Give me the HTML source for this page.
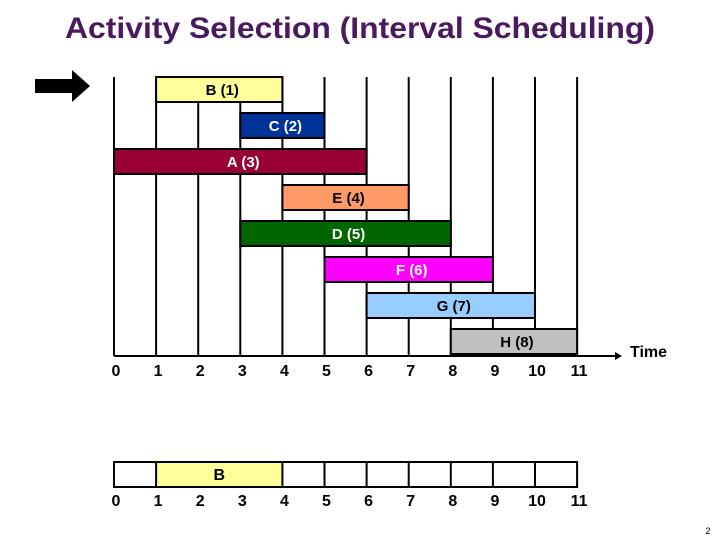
<!DOCTYPE html>
<html><head><meta charset="utf-8"><style>
body{margin:0;background:#fff;width:720px;height:540px;overflow:hidden;font-family:"Liberation Sans",Arial,sans-serif}
</style></head><body>
<svg id="c" width="720" height="540" xmlns="http://www.w3.org/2000/svg">
<text x="360" y="38" text-anchor="middle" font-size="30" font-weight="bold" fill="#4b1a5e" textLength="590" lengthAdjust="spacingAndGlyphs">Activity Selection (Interval Scheduling)</text>
<polygon points="35,79 72,79 72,70 90,86 72,102 72,93 35,93" fill="#000"/>
<text x="708" y="534" font-size="9" text-anchor="middle">2</text>
</svg>
<script>
const names=["B (1)","C (2)","A (3)","E (4)","D (5)","F (6)","G (7)","H (8)"];
const starts=[1,3,0,4,3,5,6,8];
const ends=[4,5,6,7,8,9,10,11];
const colors=["#ffff99","#003399","#990033","#ff9966","#006600","#ff00ff","#99ccff","#c0c0c0"];
const textColors=["#000","#fff","#fff","#000","#fff","#fff","#000","#000"];
const ticks=[0,1,2,3,4,5,6,7,8,9,10,11];
const selected=[{name:"B",start:1,end:4}];
const svg=document.getElementById('c');
const NS="http://www.w3.org/2000/svg";
const X=t=>114+t*42.1;
const rowY=i=>77+i*36;
function mk(tag,attrs,parent){const e=document.createElementNS(NS,tag);for(const k in attrs)e.setAttribute(k,attrs[k]);(parent||svg).appendChild(e);return e;}
ticks.forEach(t=>{
 const l=mk('line',{x1:X(t),x2:X(t),y1:77,y2:356,stroke:'#000','stroke-width':2});
 
 
});
names.forEach((n,i)=>{
 const y=rowY(i);
 const r=mk('rect',{x:X(starts[i]),y:y,width:X(ends[i])-X(starts[i]),height:25,fill:colors[i],stroke:'#000','stroke-width':2});
 
 
 const t=mk('text',{x:(X(starts[i])+X(ends[i]))/2+3,y:y+18,'text-anchor':'middle','font-size':15,'font-weight':'bold',fill:textColors[i]});
 t.textContent=n;
 
 
});
const ax=mk('line',{x1:X(0),x2:615,y1:356,y2:356,stroke:'#000','stroke-width':2});


const ah=mk('polygon',{points:'615,352 622,356 615,360',fill:'#000'});


const tt=mk('text',{x:630,y:357,'font-size':16,'font-weight':'bold'});
tt.textContent='Time';


ticks.forEach(t=>{
 const e=mk('text',{x:X(t)+2,y:376,'text-anchor':'middle','font-size':16,'font-weight':'bold'});
 e.textContent=t;
 
 
});
selected.forEach(s=>{
 const r=mk('rect',{x:X(s.start),y:462,width:X(s.end)-X(s.start),height:25,fill:'#ffff99'});
 
 
 const t=mk('text',{x:(X(s.start)+X(s.end))/2,y:480,'text-anchor':'middle','font-size':16,'font-weight':'bold'});
 t.textContent=s.name;
 
 
});
const bx=mk('rect',{x:X(0),y:462,width:X(11)-X(0),height:25,fill:'none',stroke:'#000','stroke-width':2});


ticks.forEach(t=>{
 const inside=selected.some(s=>t>s.start&&t<s.end);
 if(t>0&&t<11&&!inside){
  const l=mk('line',{x1:X(t),x2:X(t),y1:462,y2:487,stroke:'#000','stroke-width':2});
  
  
 }
 const e=mk('text',{x:X(t)+2,y:506,'text-anchor':'middle','font-size':16,'font-weight':'bold'});
 e.textContent=t;
 
 
});
</script>
</body></html>
